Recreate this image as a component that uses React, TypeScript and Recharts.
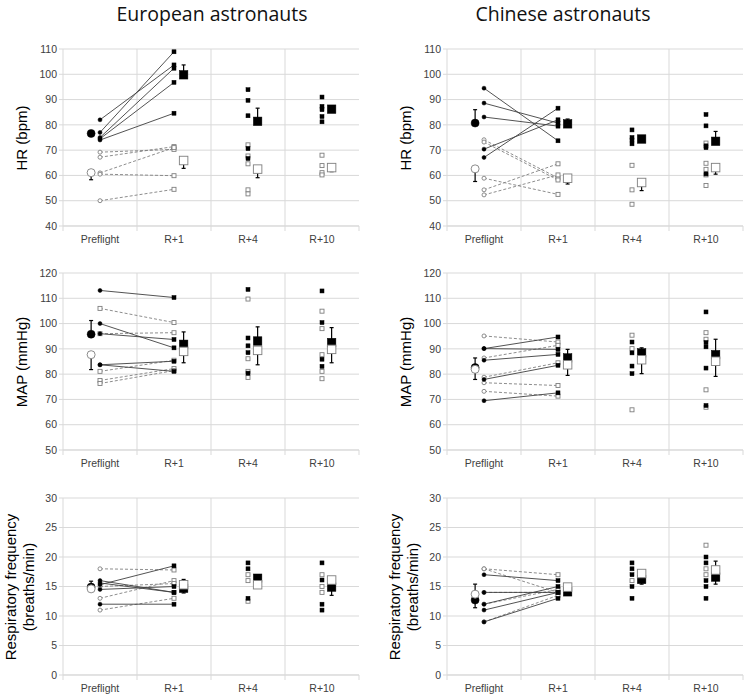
import { CartesianGrid, ComposedChart, ErrorBar, ReferenceLine, Scatter, XAxis, YAxis } from 'recharts'

const CATEGORIES = ['Preflight', 'R+1', 'R+4', 'R+10']

// each pair is one subject: [preflight, R+1]; "solid" = filled symbols, "dashed" = open symbols
// SE sign: + bar drawn upward, - bar drawn downward

// European, HR
const EU_HR_SOLID_PAIRS = [[82, 103.7], [77, 108.9], [75, 102.4], [74.5, 96.8], [74, 84.6]]
const EU_HR_DASHED_PAIRS = [[69.2, 70.3], [67.2, 71.4], [61, 71], [60.5, 59.9], [50, 54.5]]
const EU_HR_SOLID_R4 = [93.9, 89.7, 83.6, 70.6, 66.7]
const EU_HR_DASHED_R4 = [72.1, 67.7, 64.6, 54.3, 52.7]
const EU_HR_SOLID_R10 = [91, 87.3, 86, 83.3, 81.2]
const EU_HR_DASHED_R10 = [68, 63.9, 61.1, 60.2]
const EU_HR_SOLID_MEAN = [76.6, 99.8, 81.4, 86.2]
const EU_HR_SOLID_SE = [1, 3.9, 5.2, 1.4]
const EU_HR_DASHED_MEAN = [61.1, 65.9, 62.5, 63.1]
const EU_HR_DASHED_SE = [-2.8, -3.1, -3.4, -1.6]

// Chinese, HR
const CN_HR_SOLID_PAIRS = [[94.5, 73.7], [88.6, 80.7], [83.1, 79.5], [70.4, 82], [67.1, 86.6]]
const CN_HR_DASHED_PAIRS = [[74.1, 59], [73.2, 58.2], [58.9, 52.5], [54.3, 64.6], [52.3, 60.2]]
const CN_HR_SOLID_R4 = [78, 75, 74, 72.5]
const CN_HR_DASHED_R4 = [64, 54.3, 48.6]
const CN_HR_SOLID_R10 = [84.1, 79.6, 71.7, 71, 60.6]
const CN_HR_DASHED_R10 = [72.8, 64.8, 62.4, 60.2, 56]
const CN_HR_SOLID_MEAN = [80.7, 80.4, 74.4, 73.5]
const CN_HR_SOLID_SE = [5.3, 1.9, 0.6, 3.9]
const CN_HR_DASHED_MEAN = [62.6, 58.9, 57.2, 63.1]
const CN_HR_DASHED_SE = [-5, -2.3, -3.2, -2.6]

// European, MAP
const EU_MAP_SOLID_PAIRS = [[113.1, 110.3], [100, 90.4], [96, 93.7], [83.7, 85.1], [83.7, 81.1]]
const EU_MAP_DASHED_PAIRS = [[106, 100.4], [96, 96.4], [81.1, 85.5], [77.5, 82.2], [76.3, 81.4]]
const EU_MAP_SOLID_R4 = [113.5, 94.3, 91.2, 88.5, 80.4]
const EU_MAP_DASHED_R4 = [109.7, 86.1, 81.1, 78.7]
const EU_MAP_SOLID_R10 = [112.9, 100.4, 85.9, 83.1]
const EU_MAP_DASHED_R10 = [104.9, 98, 87.7, 81.1, 78.2]
const EU_MAP_SOLID_MEAN = [95.8, 91.8, 93.1, 92.5]
const EU_MAP_SOLID_SE = [5.4, 4.9, 5.6, 5.9]
const EU_MAP_DASHED_MEAN = [87.7, 89, 89.4, 89.8]
const EU_MAP_DASHED_SE = [-5.9, -4.5, -5.7, -5.3]

// Chinese, MAP
const CN_MAP_SOLID_PAIRS = [[90.1, 94.7], [90.1, 89.8], [85.5, 87.8], [77.9, 83.5], [69.5, 72.6]]
const CN_MAP_DASHED_PAIRS = [[95.1, 92.7], [86.4, 91.4], [78.8, 84.5], [76.6, 75.5], [73.2, 71.3]]
const CN_MAP_SOLID_R4 = [92.7, 88.4, 83.2, 80.2]
const CN_MAP_DASHED_R4 = [95.4, 90.1, 65.9]
const CN_MAP_SOLID_R10 = [104.6, 92.5, 90.8, 82.4, 67.6]
const CN_MAP_DASHED_R10 = [96.4, 93.8, 73.8, 66.9]
const CN_MAP_SOLID_MEAN = [82.6, 86.4, 88.4, 87.7]
const CN_MAP_SOLID_SE = [3.8, 3.4, 2, 6.1]
const CN_MAP_DASHED_MEAN = [81.9, 83.7, 85.7, 85.1]
const CN_MAP_DASHED_SE = [-4, -4.2, -5.5, -6]

// European, respiratory frequency
const EU_RF_SOLID_PAIRS = [[15.3, 18.5], [16, 14], [15.6, 14], [14.5, 15], [12, 12]]
const EU_RF_DASHED_PAIRS = [[18, 17.8], [13, 16], [11, 13], [15, 15.5]]
const EU_RF_SOLID_R4 = [19, 18, 13]
const EU_RF_DASHED_R4 = [17, 16, 12.5]
const EU_RF_SOLID_R10 = [19, 16.1, 12, 11]
const EU_RF_DASHED_R10 = [17, 15, 14]
const EU_RF_SOLID_MEAN = [14.9, 14.7, 16.4, 14.9]
const EU_RF_SOLID_SE = [1, -0.8, 0.4, -1.4]
const EU_RF_DASHED_MEAN = [14.6, 15.3, 15.3, 16.1]
const EU_RF_DASHED_SE = [-0.4, 0.9, -0.4, 0.4]

// Chinese, respiratory frequency
const CN_RF_SOLID_PAIRS = [[17, 16], [14, 14], [12, 15], [11, 14], [9, 13]]
const CN_RF_DASHED_PAIRS = [[18, 17], [18, 14], [12, 14.5], [9, 13.5], [14, 14]]
const CN_RF_SOLID_R4 = [19, 18, 17, 15, 13]
const CN_RF_DASHED_R4 = [16]
const CN_RF_SOLID_R10 = [20, 19, 16, 15, 13]
const CN_RF_DASHED_R10 = [22, 18, 17]
const CN_RF_SOLID_MEAN = [12.7, 14.1, 16.2, 16.6]
const CN_RF_SOLID_SE = [-1.3, -0.3, -0.8, -1.2]
const CN_RF_DASHED_MEAN = [13.7, 14.9, 17.2, 17.8]
const CN_RF_DASHED_SE = [1.7, 0.3, -0.3, 1.5]

const HR_TICKS = [40, 50, 60, 70, 80, 90, 100, 110]
const MAP_TICKS = [50, 60, 70, 80, 90, 100, 110, 120]
const RF_TICKS = [0, 5, 10, 15, 20, 25, 30]

type PanelDef = {
  key: string
  col: number
  row: number
  label: string[]
  ticks: number[]
  solidPairs: number[][]
  dashedPairs: number[][]
  solidR4: number[]
  dashedR4: number[]
  solidR10: number[]
  dashedR10: number[]
  solidMean: number[]
  solidSe: number[]
  dashedMean: number[]
  dashedSe: number[]
  dashedPreSquare?: boolean
}

const PANELS: PanelDef[] = [
  { key: 'euhr', col: 0, row: 0, label: ['HR (bpm)'], ticks: HR_TICKS,
    solidPairs: EU_HR_SOLID_PAIRS, dashedPairs: EU_HR_DASHED_PAIRS, solidR4: EU_HR_SOLID_R4, dashedR4: EU_HR_DASHED_R4,
    solidR10: EU_HR_SOLID_R10, dashedR10: EU_HR_DASHED_R10, solidMean: EU_HR_SOLID_MEAN, solidSe: EU_HR_SOLID_SE,
    dashedMean: EU_HR_DASHED_MEAN, dashedSe: EU_HR_DASHED_SE },
  { key: 'cnhr', col: 1, row: 0, label: ['HR (bpm)'], ticks: HR_TICKS,
    solidPairs: CN_HR_SOLID_PAIRS, dashedPairs: CN_HR_DASHED_PAIRS, solidR4: CN_HR_SOLID_R4, dashedR4: CN_HR_DASHED_R4,
    solidR10: CN_HR_SOLID_R10, dashedR10: CN_HR_DASHED_R10, solidMean: CN_HR_SOLID_MEAN, solidSe: CN_HR_SOLID_SE,
    dashedMean: CN_HR_DASHED_MEAN, dashedSe: CN_HR_DASHED_SE },
  { key: 'eumap', col: 0, row: 1, label: ['MAP (mmHg)'], ticks: MAP_TICKS, dashedPreSquare: true,
    solidPairs: EU_MAP_SOLID_PAIRS, dashedPairs: EU_MAP_DASHED_PAIRS, solidR4: EU_MAP_SOLID_R4, dashedR4: EU_MAP_DASHED_R4,
    solidR10: EU_MAP_SOLID_R10, dashedR10: EU_MAP_DASHED_R10, solidMean: EU_MAP_SOLID_MEAN, solidSe: EU_MAP_SOLID_SE,
    dashedMean: EU_MAP_DASHED_MEAN, dashedSe: EU_MAP_DASHED_SE },
  { key: 'cnmap', col: 1, row: 1, label: ['MAP (mmHg)'], ticks: MAP_TICKS,
    solidPairs: CN_MAP_SOLID_PAIRS, dashedPairs: CN_MAP_DASHED_PAIRS, solidR4: CN_MAP_SOLID_R4, dashedR4: CN_MAP_DASHED_R4,
    solidR10: CN_MAP_SOLID_R10, dashedR10: CN_MAP_DASHED_R10, solidMean: CN_MAP_SOLID_MEAN, solidSe: CN_MAP_SOLID_SE,
    dashedMean: CN_MAP_DASHED_MEAN, dashedSe: CN_MAP_DASHED_SE },
  { key: 'eurf', col: 0, row: 2, label: ['Respiratory frequency', '(breaths/min)'], ticks: RF_TICKS,
    solidPairs: EU_RF_SOLID_PAIRS, dashedPairs: EU_RF_DASHED_PAIRS, solidR4: EU_RF_SOLID_R4, dashedR4: EU_RF_DASHED_R4,
    solidR10: EU_RF_SOLID_R10, dashedR10: EU_RF_DASHED_R10, solidMean: EU_RF_SOLID_MEAN, solidSe: EU_RF_SOLID_SE,
    dashedMean: EU_RF_DASHED_MEAN, dashedSe: EU_RF_DASHED_SE },
  { key: 'cnrf', col: 1, row: 2, label: ['Respiratory frequency', '(breaths/min)'], ticks: RF_TICKS,
    solidPairs: CN_RF_SOLID_PAIRS, dashedPairs: CN_RF_DASHED_PAIRS, solidR4: CN_RF_SOLID_R4, dashedR4: CN_RF_DASHED_R4,
    solidR10: CN_RF_SOLID_R10, dashedR10: CN_RF_DASHED_R10, solidMean: CN_RF_SOLID_MEAN, solidSe: CN_RF_SOLID_SE,
    dashedMean: CN_RF_DASHED_MEAN, dashedSe: CN_RF_DASHED_SE },
]

// layout
const COL_LEFT = [0, 384]
const ROW_TOP = [40, 264, 489]
const CHART_W = 370
const CHART_H = 210
const MARGIN = { top: 9, right: 11, bottom: 0, left: 0 }
const Y_AXIS_W = 63
const X_AXIS_H = 24
const PLOT_H = CHART_H - MARGIN.top - X_AXIS_H
const MEAN_SHIFT = [-0.12, 0.13, 0.13, 0.13]
const GRID = '#d9d9d9'
const OPEN = '#7f7f7f'
const TICK_FONT = { fontSize: 10.5, fill: '#404040' }

const center = (i: number) => i + 0.5
const pts = (vals: number[], cat: number) => vals.map((y) => ({ x: center(cat), y }))
const meanPts = (m: number[], se: number[]) =>
  m.map((y, i) => ({ x: center(i) + MEAN_SHIFT[i], y, cat: i, err: se[i] >= 0 ? [0, se[i]] : [-se[i], 0] }))

const marker = (kind: 'circle' | 'square', open: boolean, size: number) => (props: any) => {
  const { cx, cy } = props
  if (cx == null || cy == null) return <g />
  const fill = open ? '#fff' : '#000'
  const stroke = open ? OPEN : '#000'
  if (kind === 'circle') return <circle cx={cx} cy={cy} r={size / 2} fill={fill} stroke={stroke} strokeWidth={open ? 0.9 : 0.5} />
  return <rect x={cx - size / 2} y={cy - size / 2} width={size} height={size} fill={fill} stroke={stroke} strokeWidth={open ? 0.9 : 0.5} />
}

const meanMarker = (open: boolean) => (props: any) => {
  const cat = props.payload?.cat ?? props.cat
  return marker(cat === 0 ? 'circle' : 'square', open, cat === 0 ? 8 : 8.5)(props)
}

const noMark = () => <g />

function Panel({ p }: { p: PanelDef }) {
  const lo = p.ticks[0]
  const hi = p.ticks[p.ticks.length - 1]
  const ext = ((hi - lo) * 5) / PLOT_H
  const bounds = [0, 1, 2, 3, 4]
  const pairData = (pairs: number[][]) => pairs.map(([a, b]) => [{ x: center(0), y: a }, { x: center(1), y: b }])
  const left = COL_LEFT[p.col]
  const top = ROW_TOP[p.row]
  const labelX = left + (p.label.length > 1 ? 20 : 22)
  const labelY = top + MARGIN.top + PLOT_H / 2

  return (
    <>
      <div
        style={{
          position: 'absolute', left: labelX, top: labelY, transform: 'translate(-50%, -50%) rotate(-90deg)',
          fontSize: 15, lineHeight: '18px', textAlign: 'center', whiteSpace: 'nowrap', color: '#000',
        }}
      >
        {p.label.map((l) => <div key={l}>{l}</div>)}
      </div>
      <div style={{ position: 'absolute', left, top }}>
        <ComposedChart width={CHART_W} height={CHART_H} margin={MARGIN}>
          <CartesianGrid vertical={false} stroke={GRID} />
          <XAxis
            type="number" dataKey="x" domain={[0, 4]} ticks={[0.5, 1.5, 2.5, 3.5]} interval={0}
            tickFormatter={(v: number) => CATEGORIES[Math.floor(v)]} tickLine={false} height={X_AXIS_H}
            axisLine={{ stroke: GRID }} tickMargin={4} tick={TICK_FONT}
          />
          <YAxis
            type="number" dataKey="y" domain={[lo, hi]} ticks={p.ticks} interval={0} width={Y_AXIS_W}
            axisLine={{ stroke: GRID }} tickLine={{ stroke: GRID }} tickSize={4} tickMargin={2}
            tick={TICK_FONT}
          />
          {bounds.map((b) => (
            <ReferenceLine
              key={b}
              segment={[{ x: b, y: lo - ext }, { x: b, y: b === 0 || b === 4 ? lo : hi }]}
              stroke={GRID} ifOverflow="visible"
            />
          ))}
          {pairData(p.dashedPairs).map((d, i) => (
            <Scatter key={'dl' + i} data={d} line={{ stroke: '#808080', strokeWidth: 0.9, strokeDasharray: '3 2' }}
              lineType="joint" shape={noMark} isAnimationActive={false} />
          ))}
          {pairData(p.solidPairs).map((d, i) => (
            <Scatter key={'sl' + i} data={d} line={{ stroke: '#404040', strokeWidth: 0.9 }}
              lineType="joint" shape={noMark} isAnimationActive={false} />
          ))}
          <Scatter data={pts(p.dashedPairs.map((q) => q[0]), 0)} shape={marker(p.dashedPreSquare ? 'square' : 'circle', true, 4)} isAnimationActive={false} />
          <Scatter data={pts(p.dashedPairs.map((q) => q[1]), 1)} shape={marker('square', true, 4)} isAnimationActive={false} />
          <Scatter data={pts(p.dashedR4, 2)} shape={marker('square', true, 4)} isAnimationActive={false} />
          <Scatter data={pts(p.dashedR10, 3)} shape={marker('square', true, 4)} isAnimationActive={false} />
          <Scatter data={pts(p.solidPairs.map((q) => q[0]), 0)} shape={marker('circle', false, 4)} isAnimationActive={false} />
          <Scatter data={pts(p.solidPairs.map((q) => q[1]), 1)} shape={marker('square', false, 4)} isAnimationActive={false} />
          <Scatter data={pts(p.solidR4, 2)} shape={marker('square', false, 4)} isAnimationActive={false} />
          <Scatter data={pts(p.solidR10, 3)} shape={marker('square', false, 4)} isAnimationActive={false} />
          <Scatter data={meanPts(p.solidMean, p.solidSe)} shape={meanMarker(false)} isAnimationActive={false}>
            <ErrorBar dataKey="err" direction="y" width={2} stroke="#000" strokeWidth={1.2} isAnimationActive={false} />
          </Scatter>
          <Scatter data={meanPts(p.dashedMean, p.dashedSe)} shape={meanMarker(true)} isAnimationActive={false}>
            <ErrorBar dataKey="err" direction="y" width={2} stroke="#000" strokeWidth={1.2} isAnimationActive={false} />
          </Scatter>
        </ComposedChart>
      </div>
    </>
  )
}

const titleStyle = (cx: number): React.CSSProperties => ({
  position: 'absolute', left: cx, top: 0, transform: 'translateX(-50%)', whiteSpace: 'nowrap',
  fontFamily: '"Open Sans", sans-serif', fontSize: 19.5, lineHeight: 'normal', color: '#111',
})

export default function App() {
  return (
    <div
      style={{
        position: 'absolute', left: 0, top: 0, width: 745, height: 697, background: '#fff', overflow: 'hidden',
        fontFamily: '"Liberation Sans", Arial, sans-serif',
      }}
    >
      <div style={titleStyle(212)}>European astronauts</div>
      <div style={titleStyle(563)}>Chinese astronauts</div>
      {PANELS.map((p) => <Panel key={p.key} p={p} />)}
    </div>
  )
}
